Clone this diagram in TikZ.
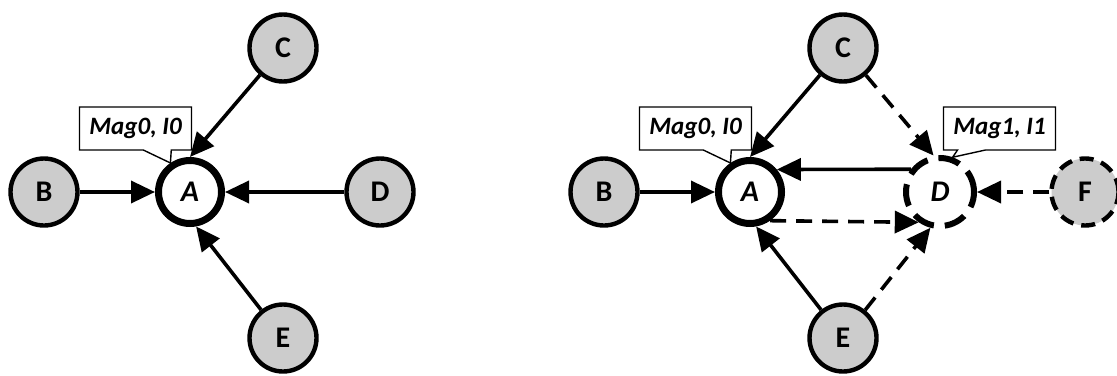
\documentclass[tikz,border=0pt]{standalone}
\usepackage{fontspec}
\setmainfont{Carlito}
\usetikzlibrary{arrows.meta,shapes.callouts}

\tikzset{
  peer/.style={circle,draw,line width=2.2pt,fill=gray!40,minimum size=33.5pt,inner sep=0pt,
    font=\bfseries\fontsize{15}{15}\selectfont},
  focus/.style={circle,draw,line width=3.5pt,fill=white,minimum size=31.5pt,inner sep=0pt,
    font=\bfseries\itshape\fontsize{15}{15}\selectfont},
  ghost/.style={focus,line width=3pt,minimum size=34pt,dash pattern=on 11pt off 5.5pt},
  ghostpeer/.style={peer,dash pattern=on 7pt off 4pt},
  tag/.style={rectangle callout,draw,line width=0.7pt,fill=white,minimum width=56pt,
    minimum height=21.5pt,inner sep=0pt,callout pointer width=14pt,
    font=\bfseries\itshape\fontsize{12.5}{12.5}\selectfont},
  link/.style={line width=1.8pt,-{Triangle[length=12pt,width=11pt]}},
  maybelink/.style={link,dash pattern=on 8pt off 5pt},
}

\begin{document}
\begin{tikzpicture}[x=0.5pt,y=-0.5pt]
  \useasboundingbox (0,0) rectangle (1117,375);
  % left: one node A and its neighbours
  \node[focus] (lA) at (190,192) {A};
  \node[peer] (lB) at (44,192) {B};
  \node[peer] (lC) at (283,48) {C};
  \node[peer] (lD) at (380,192) {D};
  \node[peer] (lE) at (283,338) {E};
  \draw[link] (lB) -- (lA);
  \draw[link] (lC) -- (lA.north);
  \draw[link] (lD) -- (lA);
  \draw[link] (lE) -- (lA.-80);
  \node[tag,callout absolute pointer={(lA.124)}] (lTag) at (135.5,128.5) {Mag0, I0};

  % right: D is taken out as a second node
  \node[focus] (rA) at (750,192) {A};
  \node[peer] (rB) at (604,192) {B};
  \node[peer] (rC) at (843,48) {C};
  \node[ghost] (rD) at (940,192) {D};
  \node[peer] (rE) at (843,338) {E};
  \node[ghostpeer] (rF) at (1085,192) {F};
  \draw[link] (rB) -- (rA);
  \draw[link] (rC) -- (rA.north);
  \draw[link] (rE) -- (rA.-80);
  \draw[link] (rD.142) -- (rA.40);
  \draw[maybelink] (rA.-55) -- (rD.-125);
  \draw[maybelink] (rC) -- (rD.100);
  \draw[maybelink] (rE) -- (rD.-105);
  \draw[maybelink] (rF) -- (rD);
  \node[tag,callout absolute pointer={(rA.124)}] (rTagA) at (695.5,128.5) {Mag0, I0};
  \node[tag,callout absolute pointer={(rD.70)}] (rTagD) at (999.5,128.5) {Mag1, I1};
\end{tikzpicture}
\end{document}
